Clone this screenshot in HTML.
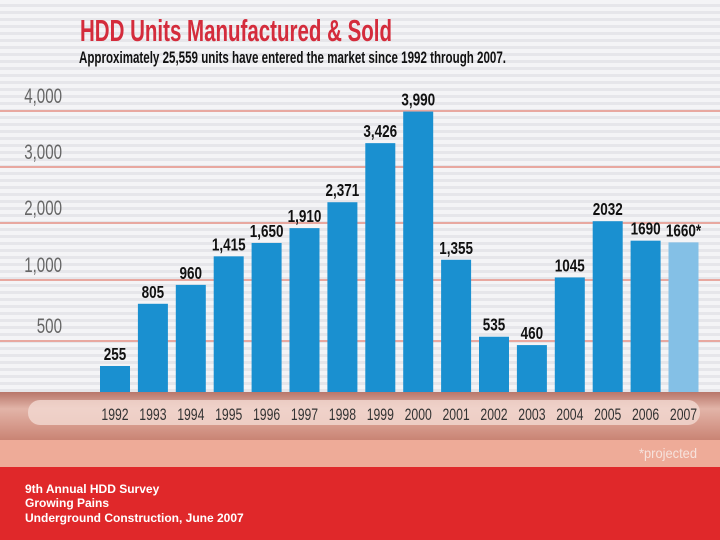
<!DOCTYPE html>
<html><head><meta charset="utf-8"><style>
body{margin:0;width:720px;height:540px;overflow:hidden;font-family:"Liberation Sans",sans-serif;}
#wrap{position:relative;width:720px;height:540px;background:repeating-linear-gradient(#f4f4f6 0 4px,#e6e6ea 4px 7px);}
</style></head><body>
<div id="wrap">
<svg id="chart" width="720" height="540" style="position:absolute;left:0;top:0">
<defs>
<linearGradient id="band" x1="0" y1="0" x2="0" y2="1">
<stop offset="0" stop-color="#b8766a"/><stop offset="0.35" stop-color="#e2b4a8"/><stop offset="0.7" stop-color="#d69a8c"/><stop offset="1" stop-color="#c98474"/>
</linearGradient>
</defs>
<rect x="0" y="392" width="720" height="48" fill="url(#band)"/>
<rect x="28" y="400" width="672" height="25" rx="12" fill="#f2d9d2" opacity="0.8"/>
<rect x="0" y="440" width="720" height="27" fill="#eeab98"/>
<g id="grid"></g><g id="bars"></g>
<text x="80" y="41" font-size="31" font-weight="bold" fill="#d42c3c" textLength="312" lengthAdjust="spacingAndGlyphs">HDD Units Manufactured &amp; Sold</text>
<text x="79" y="63" font-size="17" font-weight="bold" fill="#111" textLength="427" lengthAdjust="spacingAndGlyphs">Approximately 25,559 units have entered the market since 1992 through 2007.</text>
<text x="697" y="458" font-size="14" fill="#f6e2dc" text-anchor="end" textLength="58" lengthAdjust="spacingAndGlyphs">*projected</text>
<rect x="0" y="467" width="720" height="73" fill="#e0282a"/>
<text x="25" y="493" font-size="12" font-weight="bold" fill="#fff">9th Annual HDD Survey</text>
<text x="25" y="507" font-size="12" font-weight="bold" fill="#fff">Growing Pains</text>
<text x="25" y="522" font-size="12" font-weight="bold" fill="#fff">Underground Construction,  June 2007</text>
</svg>
</div>
<script>
const years=["1992","1993","1994","1995","1996","1997","1998","1999","2000","2001","2002","2003","2004","2005","2006","2007"];
const units=[255,805,960,1415,1650,1910,2371,3426,3990,1355,535,460,1045,2032,1690,1660];
const valueLabels=["255","805","960","1,415","1,650","1,910","2,371","3,426","3,990","1,355","535","460","1045","2032","1690","1660*"];
const tickValues=[500,1000,2000,3000,4000];
const tickLabels=["500","1,000","2,000","3,000","4,000"];
const projected=[false,false,false,false,false,false,false,false,false,false,false,false,false,false,false,true];
const NS="http://www.w3.org/2000/svg";
const dom=[0,500,1000,2000,3000,4000],rng=[392,341,280,223,167,111];
function y(v){for(let i=1;i<dom.length;i++){if(v<=dom[i]||i==dom.length-1){const t=(v-dom[i-1])/(dom[i]-dom[i-1]);return rng[i-1]+t*(rng[i]-rng[i-1]);}}}
function x(i){return 100+i*37.9;}
const bw=30;
function mk(t,a){const e=document.createElementNS(NS,t);for(const k in a)e.setAttribute(k,a[k]);return e;}
function ntext(str,cx,cy,size,weight,fill,anchor,sx){
 const t=mk('text',{x:0,y:0,'font-size':size,'font-weight':weight,fill:fill,'text-anchor':anchor,transform:'translate('+cx+','+cy+') scale('+sx+',1)'});
 t.textContent=str;return t;
}
const grid=document.getElementById('grid'),bars=document.getElementById('bars');
tickValues.forEach((v,i)=>{
 const l=mk('line',{x1:0,x2:720,y1:y(v),y2:y(v),stroke:'#e8a8a0','stroke-width':2});
 
 
 grid.appendChild(l);
 const t=ntext(tickLabels[i],62,y(v)-8,21,'normal','#666','end',0.72);
 
 
 grid.appendChild(t);
});
units.forEach((v,i)=>{
 const r=mk('rect',{x:x(i),y:y(v),width:bw,height:392-y(v),fill:projected[i]?'#84c0e6':'#1a90d0'});
 
 
 bars.appendChild(r);
 const t=ntext(valueLabels[i],x(i)+bw/2,y(v)-6,18,'bold','#111','middle',0.75);
 
 
 bars.appendChild(t);
 const a=ntext(years[i],x(i)+bw/2,420,17,'normal','#333','middle',0.72);
 
 
 bars.appendChild(a);
});
</script>
</body></html>
